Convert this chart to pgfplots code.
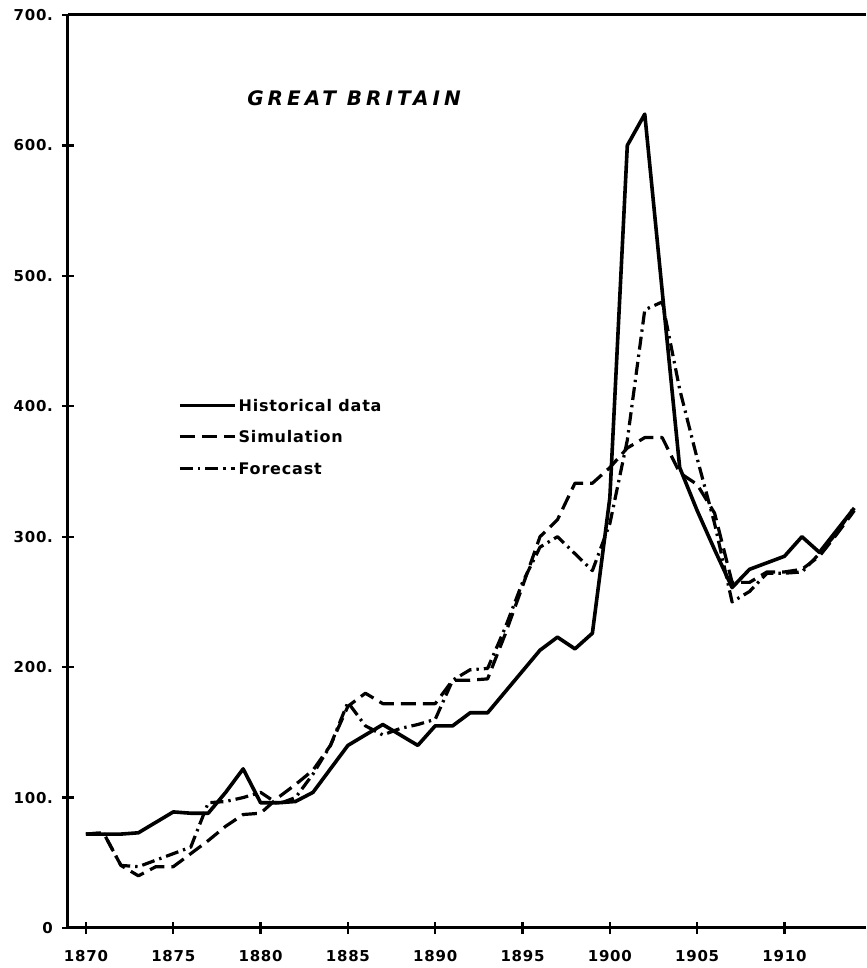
\documentclass[border=0pt]{standalone}
\usepackage{pgfplots}
\pgfplotsset{compat=1.18}
\usepackage{pgfplotstable}
\usepackage{fontspec}
\setmainfont{DejaVu Sans}
\newfontfamily\lett[LetterSpace=5]{DejaVu Sans}
\newfontfamily\titlef[LetterSpace=20]{DejaVu Sans}

\pgfplotstableread{
year hist sim fore
1870 72 72 72
1871 72 73 73
1872 72 48 48
1873 73 40 47
1874 81 47 52
1875 89 47 57
1876 88 57 62
1877 88 67 96
1878 104 78 97
1879 122 87 100
1880 96 88 104
1881 96 100 95
1882 97 110 100
1883 104 121 118
1884 122 140 140
1885 140 170 173
1886 148 180 155
1887 156 172 148
1888 148 172 153
1889 140 172 156
1890 155 172 160
1891 155 190 190
1892 165 190 198
1893 165 191 199
1894 181 225 230
1895 197 262 265
1896 213 300 292
1897 223 313 300
1898 214 341 287
1899 226 341 274
1900 330 353 310
1901 600 368 374
1902 624 376 474
1903 488 376 480
1904 353 349 413
1905 320 340 360
1906 290 318 310
1907 261 265 250
1908 275 265 258
1909 280 273 272
1910 285 273 272
1911 300 275 273
1912 288 285 287
1913 305 302 303
1914 322 320 323
}\datatable

\begin{document}
\begin{tikzpicture}
\begin{axis}[
  scale only axis,
  width=399pt, height=456.5pt,
  xmin=1868.97, xmax=1914.67,
  ymin=0, ymax=700,
  axis lines=left,
  axis line style={-, line width=1.5pt},
  xtick={1870,1875,...,1910},
  xticklabels={1870,1875,1880,1885,1890,1895,1900,1905,1910},
  ytick={0,100,...,700},
  yticklabels={0,100.,200.,300.,400.,500.,600.,700.},
  tick align=center,
  major tick length=6pt,
  every tick/.style={line width=1.2pt, black},
  tick label style={font=\lett\bfseries\fontsize{7.5}{9}\selectfont},
  xticklabel style={yshift=-4.5pt},
  yticklabel style={xshift=-1pt},
  clip=false,
  legend image code/.code={\draw[#1] (0pt,0pt) -- (27.5pt,0pt);},
  legend style={at={(axis cs:1875.25,405.6)}, anchor=north west,
    draw=none, fill=none, inner sep=0pt, row sep=9.75pt, column sep=1pt,
    font=\lett\bfseries\fontsize{8}{9.6}\selectfont,
    nodes={inner sep=0pt, text height=6pt, text depth=0pt}},
  legend cell align=left,
]
\addplot[black, line width=1.8pt, line join=round] table[x=year, y=hist] {\datatable};
\addlegendentry{Historical data}
\addplot[black, line width=1.6pt, line join=round, dash pattern=on 7.5pt off 3.5pt] table[x=year, y=sim] {\datatable};
\addlegendentry{Simulation}
\addplot[black, line width=1.6pt, line join=round, dash pattern=on 6.5pt off 2.5pt on 1.2pt off 2.5pt] table[x=year, y=fore] {\datatable};
\addlegendentry{Forecast}
\node[font=\titlef\bfseries\itshape\fontsize{10}{12}\selectfont] at (axis cs:1885.35,636) {GREAT BRITAIN};
\draw[line width=1.5pt] (rel axis cs:0,1) -- (rel axis cs:1,1);
\end{axis}
\pgfresetboundingbox
\path[use as bounding box] ([xshift=-34pt, yshift=-20pt]current axis.south west) rectangle ([yshift=7.5pt]current axis.north east);
\end{tikzpicture}
\end{document}
